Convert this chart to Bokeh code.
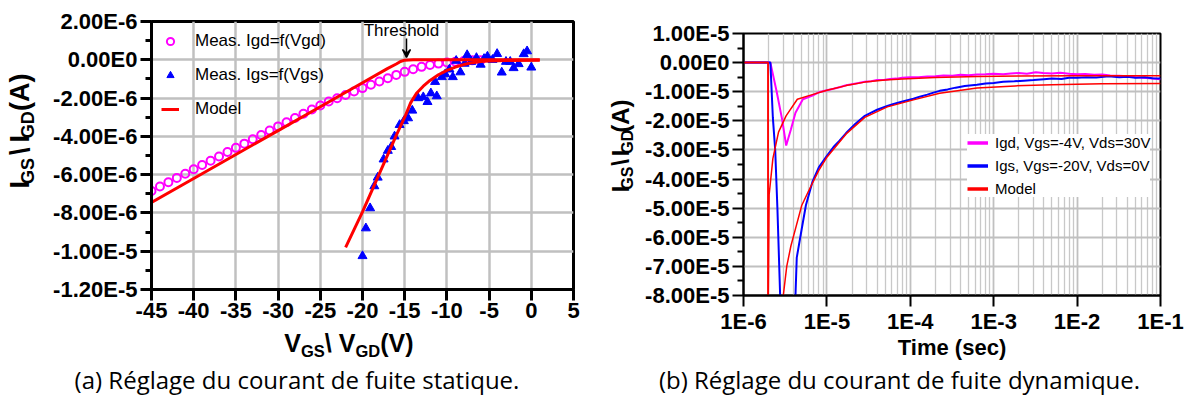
import math
from bokeh.plotting import figure
from bokeh.models import (Range1d, FixedTicker, Legend, LegendItem, Label, Arrow, VeeHead)
from bokeh.layouts import row, column
from bokeh.embed import file_html
from bokeh.resources import INLINE

# ---------------- data: panel (a) static leakage ----------------
vgd_meas = [-45, -44, -43, -42, -41, -40, -39, -38, -37, -36, -35, -34, -33, -32, -31,
            -30, -29, -28, -27, -26, -25, -24, -23, -22, -21, -20, -19, -18, -17, -16,
            -15, -14, -13, -12, -11, -10, -9, -8, -7, -6]
igd_meas_uA = [-6.85, -6.62, -6.40, -6.17, -5.95, -5.72, -5.50, -5.27, -5.05, -4.82,
               -4.60, -4.38, -4.15, -3.93, -3.70, -3.48, -3.26, -3.04, -2.82, -2.60,
               -2.39, -2.18, -2.01, -1.84, -1.66, -1.48, -1.30, -1.13, -0.96, -0.79,
               -0.63, -0.49, -0.37, -0.27, -0.20, -0.14, -0.10, -0.06, -0.03, -0.02]

vgs_meas = [-20.0, -19.6, -19.1, -18.6, -18.2, -17.5, -17.0, -16.6, -16.2, -15.6, -15.1,
            -14.6, -14.1, -13.4, -12.8, -12.3, -11.9, -11.2, -11.4, -10.6, -10.2, -9.7,
            -9.3, -8.9, -8.4, -7.9, -7.6, -7.1, -6.5, -6.0, -5.6, -5.2, -4.6, -4.05,
            -3.5, -3.0, -2.5, -2.1, -1.5, -0.9, -0.5, 0.0]
igs_meas_uA = [-10.25, -8.8, -7.75, -6.6, -6.15, -5.2, -4.75, -4.55, -4.0, -3.4, -3.2,
               -3.05, -2.65, -2.0, -1.95, -2.2, -1.75, -1.9, -1.15, -0.9, -0.75, -0.5,
               -0.9, -0.05, -0.65, -0.2, 0.25, -0.1, 0.1, -0.25, 0.05, 0.17, 0.0, 0.31,
               -0.66, -0.1, -0.1, -0.43, -0.22, 0.3, 0.45, -0.4]

model_gd_v = [-45, -40, -35, -30, -25, -20, -17, -16, -15.5, -15, -14, 1]
model_gd_uA = [-7.45, -6.2, -4.95, -3.7, -2.45, -1.2, -0.45, -0.22, -0.09, -0.02, 0.0, 0.0]

model_gs_v = [-22, -20, -18, -16, -15, -14.3, -13.6, -12.8, -12, -11, -10, -9, -8, -7,
              -6, -5, -3, 1]
model_gs_uA = [-9.8, -7.95, -5.95, -3.95, -3.0, -2.25, -1.75, -1.38, -1.08, -0.78, -0.55,
               -0.38, -0.25, -0.15, -0.09, -0.06, -0.04, -0.03]

xa_ticks = [-45, -40, -35, -30, -25, -20, -15, -10, -5, 0, 5]
xa_labels = ["-45", "-40", "-35", "-30", "-25", "-20", "-15", "-10", "-5", "0", "5"]
ya_ticks = [2e-6, 0.0, -2e-6, -4e-6, -6e-6, -8e-6, -1e-5, -1.2e-5]
ya_labels = ["2.00E-6", "0.00E0", "-2.00E-6", "-4.00E-6", "-6.00E-6", "-8.00E-6",
             "-1.00E-5", "-1.20E-5"]
ya_minor = [1e-6, -1e-6, -3e-6, -5e-6, -7e-6, -9e-6, -1.1e-5]

# ---------------- data: panel (b) dynamic leakage ----------------
igd_t = [1e-6, 1.5e-6, 2.1e-6, 2.5e-6, 2.9e-6, 3.25e-6, 3.7e-6, 4.2e-6, 5.15e-6, 6.7e-6,
         8.0e-6, 1.0e-5, 1.2e-5, 1.45e-5, 1.7e-5, 2.0e-5, 2.4e-5, 2.85e-5, 3.4e-5, 4.0e-5,
         4.8e-5, 5.7e-5, 6.8e-5, 8.0e-5, 1.0e-4, 1.25e-4, 1.6e-4, 2.0e-4, 2.5e-4, 3.2e-4,
         4.0e-4, 5.0e-4, 6.3e-4, 8.0e-4, 1.0e-3, 1.3e-3, 1.6e-3, 2.0e-3, 2.5e-3, 3.2e-3,
         3.9e-3, 5.0e-3, 6.3e-3, 8.0e-3, 1.0e-2, 1.25e-2, 1.6e-2, 2.0e-2, 2.5e-2, 3.2e-2,
         4.0e-2, 5.0e-2, 6.3e-2, 8.0e-2, 1.0e-1]
igd_i_e5 = [0, 0, 0, -1.0, -1.94, -2.85, -2.3, -1.72, -1.26, -1.13,
            -1.02, -0.95, -0.9, -0.84, -0.78, -0.74, -0.7, -0.66, -0.64, -0.6,
            -0.6, -0.56, -0.55, -0.52, -0.5, -0.5, -0.48, -0.47, -0.44, -0.45,
            -0.42, -0.43, -0.41, -0.4, -0.38, -0.4, -0.37, -0.36, -0.38, -0.33,
            -0.36, -0.37, -0.35, -0.38, -0.4, -0.39, -0.42, -0.41, -0.44, -0.45,
            -0.47, -0.5, -0.52, -0.55, -0.57]

igs_t = [1e-6, 1.5e-6, 2.1e-6, 2.25e-6, 2.4e-6, 2.55e-6, 2.75e-6, 3.3e-6, 4.2e-6, 4.35e-6,
         5.0e-6, 5.6e-6, 6.7e-6, 8.0e-6, 1.0e-5, 1.2e-5, 1.4e-5, 1.7e-5, 2.2e-5, 2.85e-5,
         3.4e-5, 4.0e-5, 5.3e-5, 6.3e-5, 7.5e-5, 9.0e-5, 1.09e-4, 1.3e-4, 1.6e-4, 1.9e-4,
         2.25e-4, 2.8e-4, 3.5e-4, 4.5e-4, 6.3e-4, 8.0e-4, 1.0e-3, 1.3e-3, 1.77e-3, 2.3e-3,
         3.0e-3, 4.0e-3, 5.0e-3, 6.5e-3, 8.0e-3, 1.0e-2, 1.3e-2, 1.7e-2, 2.4e-2, 3.2e-2,
         4.0e-2, 5.0e-2, 6.5e-2, 8.0e-2, 1.0e-1]
igs_i_e5 = [0, 0, 0, -1.9, -3.0, -5.0, -8.0, -10.5, -8.0, -6.7,
            -5.7, -4.9, -4.1, -3.6, -3.2, -2.9, -2.7, -2.42, -2.1, -1.83,
            -1.72, -1.62, -1.49, -1.42, -1.36, -1.3, -1.24, -1.17, -1.1, -1.03,
            -0.97, -0.92, -0.86, -0.8, -0.76, -0.72, -0.7, -0.66, -0.64, -0.62,
            -0.6, -0.57, -0.55, -0.56, -0.52, -0.52, -0.5, -0.51, -0.47, -0.5,
            -0.49, -0.52, -0.5, -0.54, -0.55]

model1_t = [1e-6, 1.97e-6, 1.97e-6, 2.0e-6, 2.03e-6, 2.25e-6, 2.63e-6, 3.24e-6, 4.42e-6,
            6.67e-6, 1.0e-5, 1.7e-5, 2.85e-5, 5e-5, 8e-5, 2e-4, 6.3e-4, 2e-3, 1e-2, 1e-1]
model1_i_e5 = [0, 0, -9.0, -7.0, -4.54, -3.3, -2.39, -1.83, -1.26,
               -1.1, -0.95, -0.79, -0.67, -0.6, -0.56, -0.51, -0.475, -0.46, -0.455, -0.45]

model2_t = [1e-6, 1.97e-6, 1.97e-6, 3.0e-6, 3.3e-6, 3.7e-6, 4.3e-6, 5.0e-6, 6.3e-6, 8.0e-6,
            1.0e-5, 1.7e-5, 2.85e-5, 5.3e-5, 1.09e-4, 2.25e-4, 6.3e-4, 1.8e-3, 5e-3, 2e-2, 1e-1]
model2_i_e5 = [0, 0, -12.0, -8.0, -7.0, -6.3, -5.6, -4.9, -4.3, -3.7,
               -3.25, -2.45, -1.88, -1.52, -1.28, -1.05, -0.87, -0.8, -0.76, -0.73, -0.72]

xb_ticks = [1e-6, 1e-5, 1e-4, 1e-3, 1e-2, 1e-1]
xb_labels = ["1E-6", "1E-5", "1E-4", "1E-3", "1E-2", "1E-1"]
yb_ticks = [1e-5, 0.0, -1e-5, -2e-5, -3e-5, -4e-5, -5e-5, -6e-5, -7e-5, -8e-5]
yb_labels = ["1.00E-5", "0.00E0", "-1.00E-5", "-2.00E-5", "-3.00E-5", "-4.00E-5",
             "-5.00E-5", "-6.00E-5", "-7.00E-5", "-8.00E-5"]
yb_minor = [5e-6, -5e-6, -1.5e-5, -2.5e-5, -3.5e-5, -4.5e-5, -5.5e-5, -6.5e-5, -7.5e-5]

caption_a = "(a) Réglage du courant de fuite statique."
caption_b = "(b) Réglage du courant de fuite dynamique."

MAGENTA = "#ff00ff"
BLUE = "#0000ff"
RED = "#ff0000"
GRID = "#c0c0c0"
FONT = "Liberation Sans"
CAP_FONT = "Open Sans"

# ---------------- layout (page pixels, origin top-left) ----------------
TOTAL_H = 397
YTA_W, PA_W, PA_H = 48, 552, 327
A_L, A_R, A_T, A_B = 103, 27, 21, 38          # frame page box: 151..573 x 21..289
BOTA_H = TOTAL_H - PA_H
YTB_W, PB_W, PB_H = 42, 548, 362
B_L, B_R, B_T, B_B = 100, 30, 33, 63          # frame page box: 742..1160 x 33..299
BOTB_H = TOTAL_H - PB_H

A_FL, A_FR, A_FT, A_FB = YTA_W + A_L, YTA_W + PA_W - A_R, A_T, PA_H - A_B

def xA(px):
    return -45 + (px - A_FL) / (A_FR - A_FL) * 50.0

def yA(py):
    return 2e-6 - (py - A_FT) / (A_FB - A_FT) * 14e-6

AW = {'I': 0.278, 'G': 0.778, 'S': 0.667, 'D': 0.722, 'V': 0.667, ' ': 0.278,
      '\\': 0.278, '(': 0.333, ')': 0.333, 'A': 0.722}
MID_LIB = 0.3465      # (ascent - descent) / 2 for Liberation Sans
MID_OPEN = 0.388      # same for Open Sans

def tw(s, f):
    return sum(AW[c] for c in s) * f

def strip(w, h):
    s = figure(width=w, height=h, x_range=Range1d(0, w), y_range=Range1d(h, 0),
               output_backend="svg", toolbar_location=None, min_border=0, title=None,
               x_axis_location=None, y_axis_location=None, outline_line_color=None,
               background_fill_color="white", border_fill_color="white")
    s.grid.visible = False
    return s

# pieces: (text, font size, baseline drop, gap before in units of a space of the main size)
def hpieces(p, pieces, x0, ybase, main):
    x = x0
    for txt, size, drop, gap in pieces:
        x += gap * AW[' '] * main
        w = tw(txt, size)
        p.add_layout(Label(x=x + w / 2, y=ybase + drop - MID_LIB * size, text=txt,
                           text_font=FONT, text_font_style="bold", text_font_size=f"{size}px",
                           text_align="center", text_baseline="middle", text_color="black"))
        x += w

def vpieces(p, pieces, xbase, y0, main):
    y = y0
    for txt, size, drop, gap in pieces:
        y -= gap * AW[' '] * main
        w = tw(txt, size)
        p.add_layout(Label(x=xbase + drop - MID_LIB * size, y=y - w / 2, text=txt,
                           text_font=FONT, text_font_style="bold", text_font_size=f"{size}px",
                           angle=math.pi / 2, text_align="center", text_baseline="middle",
                           text_color="black"))
        y -= w

def style_axes(p, lw, xt, xl, yt, yl, ymin, xgrid_minor=None):
    p.xaxis.ticker = FixedTicker(ticks=xt, minor_ticks=[])
    p.xaxis.major_label_overrides = dict(zip(xt, xl))
    p.yaxis.ticker = FixedTicker(ticks=yt, minor_ticks=ymin)
    p.yaxis.major_label_overrides = dict(zip(yt, yl))
    for ax in (p.xaxis[0], p.yaxis[0]):
        ax.axis_line_width = lw
        ax.axis_line_color = "black"
        ax.major_tick_line_width = lw
        ax.minor_tick_line_width = lw
        ax.major_tick_in = 0
        ax.major_tick_out = 11
        ax.minor_tick_in = 0
        ax.minor_tick_out = 6
        ax.major_label_text_font = FONT
        ax.major_label_text_font_style = "bold"
        ax.major_label_text_font_size = "22px"
        ax.major_label_text_color = "black"
    p.xaxis.major_label_standoff = 2
    p.yaxis.major_label_standoff = 3
    p.outline_line_color = "black"
    p.outline_line_width = lw
    p.outline_line_alpha = 1.0
    p.xgrid.ticker = FixedTicker(ticks=xt, minor_ticks=xgrid_minor or [])
    p.ygrid.ticker = FixedTicker(ticks=yt, minor_ticks=[])

# ================= panel (a) =================
pA = figure(width=PA_W, height=PA_H, x_range=Range1d(-45, 5), y_range=Range1d(-1.2e-5, 2e-6),
            output_backend="svg", toolbar_location=None, title=None,
            min_border_left=A_L, min_border_right=A_R, min_border_top=A_T, min_border_bottom=A_B,
            background_fill_color="white", border_fill_color="white")
style_axes(pA, 3, xa_ticks, xa_labels, ya_ticks, ya_labels, ya_minor)
pA.grid.grid_line_color = GRID
pA.grid.grid_line_width = 2.5

r_gd = pA.scatter(vgd_meas, [v * 1e-6 for v in igd_meas_uA], marker="circle", size=8,
                  fill_color=None, line_color=MAGENTA, line_width=2)
r_gs = pA.scatter(vgs_meas, [v * 1e-6 for v in igs_meas_uA], marker="triangle", size=9,
                  fill_color=BLUE, line_color=BLUE)
r_m1 = pA.line(model_gd_v, [v * 1e-6 for v in model_gd_uA], line_color=RED, line_width=3)
pA.line(model_gs_v, [v * 1e-6 for v in model_gs_uA], line_color=RED, line_width=3)

legA = Legend(items=[LegendItem(label="Meas. Igd=f(Vgd)", renderers=[r_gd]),
                     LegendItem(label="Meas. Igs=f(Vgs)", renderers=[r_gs]),
                     LegendItem(label="Model", renderers=[r_m1])],
              location="top_left", margin=10, padding=13, spacing=14,
              glyph_width=18, glyph_height=20, label_height=20, label_standoff=16,
              label_text_font=FONT, label_text_font_size="17px", label_text_color="black",
              background_fill_alpha=0, border_line_color=None)
pA.add_layout(legA)

pA.add_layout(Label(x=xA(401), y=yA(30), text="Threshold", text_font=FONT,
                    text_font_size="17px", text_align="center", text_baseline="middle",
                    text_color="black"))
pA.add_layout(Arrow(end=VeeHead(size=8, line_color="black", fill_color="black", line_width=1.5),
                    x_start=xA(406), y_start=yA(38), x_end=xA(406), y_end=yA(57),
                    line_color="black", line_width=1.5))

ytA = strip(YTA_W, PA_H)
vpieces(ytA, [("I", 27, 0, 0), ("GS", 18, 5, 0), ("\\", 27, 0, 1), ("I", 27, 0, 1),
              ("GD", 18, 5, 0), ("(A)", 27, 0, 1)], 28.8, 203, 27)

botA = strip(YTA_W + PA_W, BOTA_H)
hpieces(botA, [("V", 25, 0, 0), ("GS", 16.5, 5, 0), ("\\", 25, 0, 0), ("V", 25, 0, 1),
               ("GD", 16.5, 5, 0), ("(V)", 25, 0, 0)], 283.8, 351.5 - PA_H, 25)
botA.add_layout(Label(x=296.5, y=388 - MID_OPEN * 24 - PA_H, text=caption_a, text_font=CAP_FONT,
                      text_font_size="24px", text_align="center", text_baseline="middle",
                      text_color="black"))

# ================= panel (b) =================
pB = figure(width=PB_W, height=PB_H, x_axis_type="log", x_range=Range1d(1e-6, 1e-1),
            y_range=Range1d(-8e-5, 1e-5), output_backend="svg", toolbar_location=None,
            title=None,
            min_border_left=B_L, min_border_right=B_R, min_border_top=B_T, min_border_bottom=B_B,
            background_fill_color="white", border_fill_color="white")
minor_b = [k * 10.0 ** e for e in range(-6, -1) for k in range(2, 10)]
style_axes(pB, 2, xb_ticks, xb_labels, yb_ticks, yb_labels, yb_minor, xgrid_minor=minor_b)
pB.grid.grid_line_color = GRID
pB.grid.grid_line_width = 1.8
pB.xgrid.minor_grid_line_color = "#c8c8c8"
pB.xgrid.minor_grid_line_width = 1.3
pB.xaxis.axis_label = "Time (sec)"
pB.xaxis.axis_label_text_font = FONT
pB.xaxis.axis_label_text_font_style = "bold"
pB.xaxis.axis_label_text_font_size = "22px"
pB.xaxis.axis_label_text_color = "black"
pB.xaxis.axis_label_standoff = -2

r_bgd = pB.line(igd_t, [v * 1e-5 for v in igd_i_e5], line_color=MAGENTA, line_width=2)
r_bgs = pB.line(igs_t, [v * 1e-5 for v in igs_i_e5], line_color=BLUE, line_width=2)
r_bm = pB.line(model1_t, [v * 1e-5 for v in model1_i_e5], line_color=RED, line_width=1.5)
pB.line(model2_t, [v * 1e-5 for v in model2_i_e5], line_color=RED, line_width=1.5)

# legend-only proxies (no visible data) so that legend strokes are drawn thicker, as in the original
nan = float("nan")
lg1 = pB.line([1e-6], [nan], line_color=MAGENTA, line_width=3.5)
lg2 = pB.line([1e-6], [nan], line_color=BLUE, line_width=3.5)
lg3 = pB.line([1e-6], [nan], line_color=RED, line_width=3.5)

legB = Legend(items=[LegendItem(label="Igd, Vgs=-4V, Vds=30V", renderers=[lg1]),
                     LegendItem(label="Igs, Vgs=-20V, Vds=0V", renderers=[lg2]),
                     LegendItem(label="Model", renderers=[lg3])],
              location=(224, 98), margin=0, padding=6, spacing=6,
              glyph_width=21, glyph_height=15, label_height=15, label_standoff=7,
              label_text_font=FONT, label_text_font_size="15px", label_text_color="black",
              background_fill_color="white", background_fill_alpha=1.0, border_line_color=None)
pB.add_layout(legB)

ytB = strip(YTB_W, PB_H)
vpieces(ytB, [("I", 24, 0, 0), ("GS", 16, 5, 0), ("\\", 24, 0, 1), ("I", 24, 0, 1),
              ("GD", 16, 5, 0), ("(A)", 24, 0, 1)], 28, 218, 24)

botB = strip(YTB_W + PB_W, BOTB_H)
botB.add_layout(Label(x=899 - 600, y=388 - MID_OPEN * 24 - PB_H, text=caption_b,
                      text_font=CAP_FONT, text_font_size="24px", text_align="center",
                      text_baseline="middle", text_color="black"))

colA = column(row(ytA, pA), botA)
colB = column(row(ytB, pB), botB)
layout = row(colA, colB)
open("out.html", "w").write(file_html(layout, INLINE))
